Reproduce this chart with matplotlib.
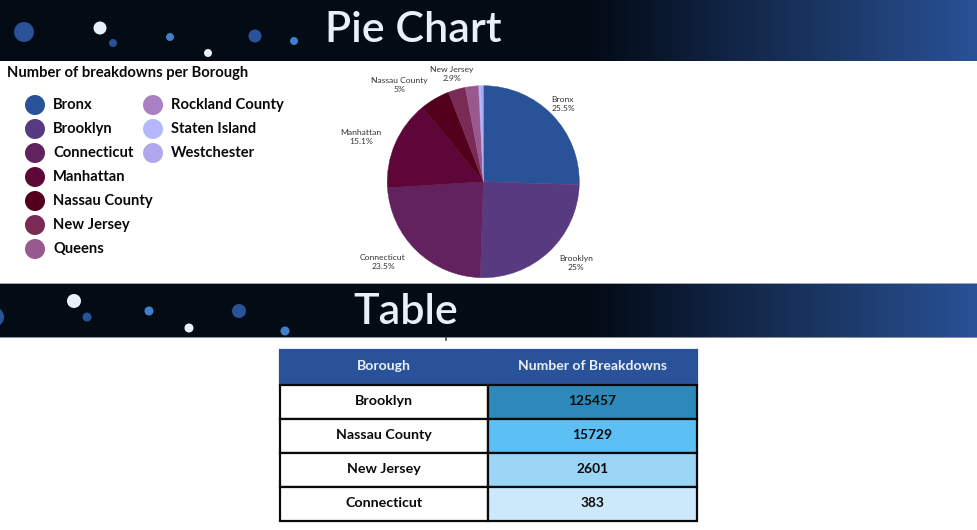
"""Pie chart and table of breakdowns per borough"""
import numpy as np
import matplotlib
matplotlib.use("Agg")
import matplotlib.pyplot as plt
from matplotlib.patches import Circle
from matplotlib.transforms import Affine2D

plt.rcParams["font.family"] = ["Lato", "DejaVu Sans"]

boroughs = ["Bronx", "Brooklyn", "Connecticut", "Manhattan", "Nassau County", "New Jersey",
            "Queens", "Rockland County", "Staten Island", "Westchester"]
shares = [25.5, 25, 23.5, 15.1, 5, 2.9, 2.2, 0.1, 0.3, 0.4]
colors = ["#2a5298", "#583a80", "#62225e", "#5f0638", "#52001c", "#7a2b55",
          "#98598f", "#a980c4", "#b3b8ff", "#b0a8ec"]
pie_labels = ["Bronx\n25.5%", "Brooklyn\n25%", "Connecticut\n23.5%", "Manhattan\n15.1%",
              "Nassau County\n5%", "New Jersey\n2.9%", "", "", "", ""]

table_boroughs = ["Brooklyn", "Nassau County", "New Jersey", "Connecticut"]
table_values = [125457, 15729, 2601, 383]
table_colors = ["#2d89b9", "#5cc0f5", "#9bd5f5", "#cbe9fb"]

# decorative dots of the two banners: x, y, radius, colour
BLUE, LIGHT, WHITE = "#2a5298", "#3f80cc", "#e8f0fc"
dots_top = [(24, 32, 10, BLUE), (100, 28, 6.5, WHITE), (113, 43, 4, BLUE), (170, 37, 4, LIGHT),
            (208, 53, 4, WHITE), (255, 36, 6.5, BLUE), (294, 41, 4, LIGHT)]
dots_table = [(-6, 317, 10, BLUE), (74, 301, 7, WHITE), (87, 317, 4.5, BLUE), (149, 311, 4.5, LIGHT),
              (189, 328, 4.5, WHITE), (239, 311, 7, BLUE), (285, 331, 4.5, LIGHT)]

# label centres around the pie, in pixels
label_pos = [(563, 104), (576, 263), (383, 262), (361, 137), (399, 85), (452, 74)]

W, H = 977, 530
fig = plt.figure(figsize=(W / 100, H / 100), dpi=100, facecolor="white")

# Axes in pixels for everything laid out by hand
ax = fig.add_axes([0, 0, 1, 1])
ax.axis("off")

# Banner gradient: dark navy, then blue towards the right edge
dark = np.array([3, 11, 21]) / 255
blue = np.array([42, 82, 152]) / 255
t = np.clip((np.arange(W) - 590) / (W - 590), 0, 1)[None, :, None]
gradient = dark + t * (blue - dark)
for top, bottom in [(0, 61), (284, 337)]:
    ax.imshow(gradient, extent=(0, W, bottom, top), aspect="auto", zorder=1)
ax.set_xlim(0, W)
ax.set_ylim(H, 0)
# one pixel grey edges of the second banner
ax.axhspan(283, 284, color="#a4a8ad", lw=0, zorder=1)
ax.axhspan(337, 338, color="#8a8f96", lw=0, zorder=1)
ax.plot([446, 446], [338, 340], color="#444444", lw=1.2, zorder=1)

for x, y, r, c in dots_top + dots_table:
    ax.add_patch(Circle((x, y), r, facecolor=c, edgecolor="none", zorder=2))

ax.text(413, 42, "Pie Chart", color=WHITE, fontsize=31, fontweight="semibold",
        ha="center", va="baseline", zorder=3)
ax.text(406, 324, "Table", color=WHITE, fontsize=31, fontweight="semibold",
        ha="center", va="baseline", zorder=3)

# Title and hand-placed legend (7 + 3 entries)
ax.text(7, 73, "Number of breakdowns per Borough", fontsize=10.65, fontweight="bold",
        color="#0a0a0a", ha="left", va="center")
for i, (name, c) in enumerate(zip(boroughs, colors)):
    col, row = (0, i) if i < 7 else (1, i - 7)
    x = 35 + col * 118
    y = 105 + row * 24
    ax.add_patch(Circle((x, y), 10, facecolor=c, edgecolor="none"))
    ax.text(x + 18, y, name, fontsize=10.65, fontweight="bold", color="#0a0a0a",
            ha="left", va="center")

# Pie
cx, cy, radius = 483.3, 181.7, 96
ax_pie = fig.add_axes([(cx - radius) / W, 1 - (cy + radius) / H, 2 * radius / W, 2 * radius / H])
wedges, texts = ax_pie.pie(shares, colors=colors, startangle=90, counterclock=False, radius=1,
                           labels=pie_labels,
                           textprops={"fontsize": 6.1, "color": "#333333", "linespacing": 1.25})
for w in wedges:
    w.set_edgecolor(w.get_facecolor())
    w.set_linewidth(0.3)
for txt, (x, y) in zip(texts, label_pos):
    txt.set_position(((x - cx) / radius, (cy - y) / radius))
    txt.set_ha("center")
    txt.set_va("center")
ax_pie.set_xlim(-1, 1)
ax_pie.set_ylim(-1, 1)

# Table
ax_tab = fig.add_axes([280 / W, 1 - 521 / H, 417 / W, 171 / H])
ax_tab.axis("off")
cell_text = [[b, str(v)] for b, v in zip(table_boroughs, table_values)]
table = ax_tab.table(cellText=cell_text, colLabels=["Borough", "Number of Breakdowns"],
                     colWidths=[208 / 417, 209 / 417], cellLoc="center", bbox=[0, 0, 1, 1])
table.auto_set_font_size(False)
for (row, col), cell in table.get_celld().items():
    cell.set_linewidth(1.6)
    # cell texts are placed in display pixels, nudge them up a little
    cell.get_text().set_transform(Affine2D().translate(0, 1))
    if row == 0:
        cell.set_height(35)
        cell.set_facecolor(BLUE)
        cell.set_edgecolor(BLUE)
        cell.set_text_props(color=WHITE, fontsize=10.1, fontweight="bold")
    else:
        cell.set_height(34)
        cell.set_edgecolor("#0a0a0a")
        cell.set_facecolor(table_colors[row - 1] if col == 1 else "white")
        cell.set_text_props(color="#0a0a0a", fontsize=10.3 if col == 0 else 9.9, fontweight="bold")

fig.savefig("out.png", dpi=100)
